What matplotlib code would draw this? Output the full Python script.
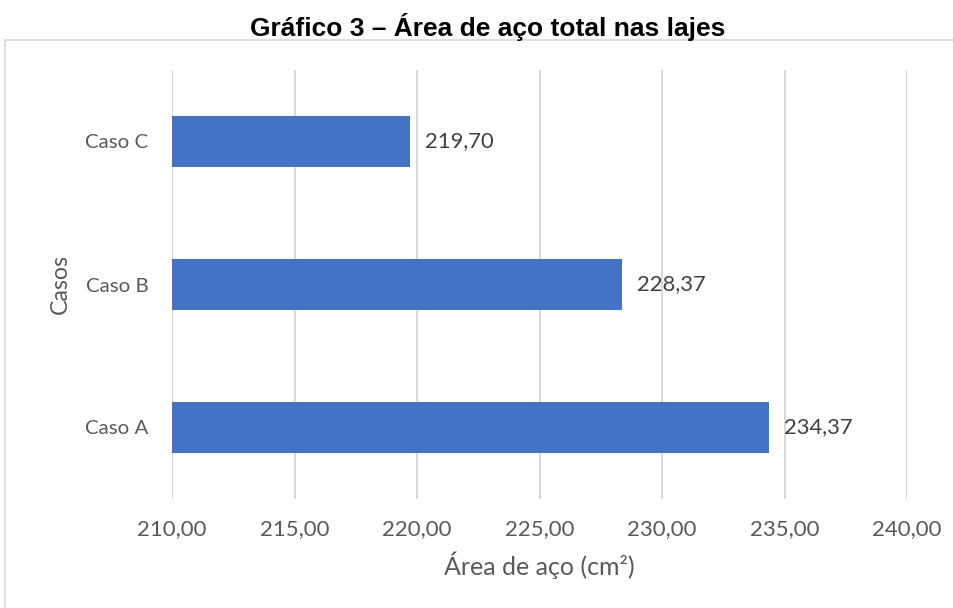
import matplotlib
matplotlib.use("Agg")
import matplotlib.pyplot as plt
from matplotlib.patches import Rectangle

categories = ["Caso A", "Caso B", "Caso C"]
values = [234.37, 228.37, 219.70]
xticks = [210, 215, 220, 225, 230, 235, 240]
title = "Gráfico 3 – Área de aço total nas lajes"
xlabel = "Área de aço (cm²)"
ylabel = "Casos"

W, H = 954, 608
fig = plt.figure(figsize=(W/100, H/100), dpi=100)
ax = fig.add_axes([172/W, 1-499/H, (907-172)/W, (499-70)/H])

gray = "#595959"
font = "Lato"

ypos = list(range(len(categories)))
ax.barh(ypos, values, left=0, height=0.35, color="#4472C4", zorder=3)
ax.set_xlim(210, 240)
ax.set_ylim(-0.5, len(categories)-0.5)
ax.set_xticks(xticks)
ax.set_xticklabels([f"{t:.2f}".replace(".", ",") for t in xticks], fontsize=16, color=gray, family=font)
ax.set_yticks(ypos)
ax.set_yticklabels(categories, fontsize=14.7, color=gray, family=font)
ax.tick_params(axis="x", length=0, pad=14.5)
ax.tick_params(axis="y", length=0, pad=17)
for s in ax.spines.values():
    s.set_visible(False)
ax.grid(axis="x", color="#d9d9d9", linewidth=1.5, zorder=0)
ax.set_axisbelow(True)

for y, v in zip(ypos, values):
    ax.annotate(f"{v:.2f}".replace(".", ","), (v, y), xytext=(11, 0), textcoords="offset points",
                va="center", ha="left", fontsize=15.8, color="#404040", family=font)

ax.set_xlabel(xlabel, fontsize=18, color=gray, family=font, labelpad=9)
ax.set_ylabel(ylabel, fontsize=16.7, color=gray, family=font, labelpad=10)

fig.text(488/W, 1-27/H, title, ha="center", va="center", fontsize=19, fontweight="bold",
         family="Liberation Sans", color="black")

fig.patches.append(Rectangle((5/W, -0.1), 1.2, 1-40/H+0.1, transform=fig.transFigure,
                             fill=False, edgecolor="#d9d9d9", linewidth=1.2))

fig.savefig("out.png", dpi=100)
